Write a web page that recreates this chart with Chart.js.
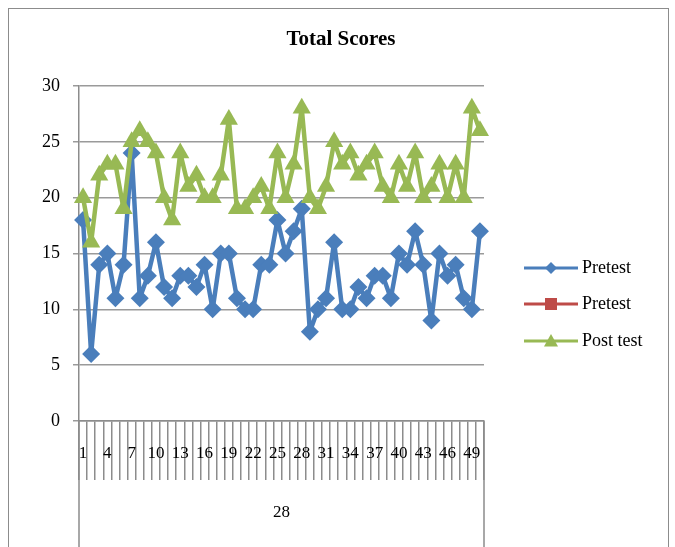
<!DOCTYPE html>
<html>
<head>
<meta charset="utf-8">
<script src="https://cdn.jsdelivr.net/npm/chart.js@4.4.1/dist/chart.umd.min.js"></script>
<style>
  html, body { margin: 0; padding: 0; background: #ffffff; }
  canvas { display: block; }
</style>
</head>
<body>
<canvas id="scores" width="675" height="547"></canvas>
<script>
// Students 1..50
const categories = ['1','2','3','4','5','6','7','8','9','10',
  '11','12','13','14','15','16','17','18','19','20',
  '21','22','23','24','25','26','27','28','29','30',
  '31','32','33','34','35','36','37','38','39','40',
  '41','42','43','44','45','46','47','48','49','50'];

const pretest = [18, 6, 14, 15, 11, 14, 24, 11, 13, 16,
  12, 11, 13, 13, 12, 14, 10, 15, 15, 11,
  10, 10, 14, 14, 18, 15, 17, 19, 8, 10,
  11, 16, 10, 10, 12, 11, 13, 13, 11, 15,
  14, 17, 14, 9, 15, 13, 14, 11, 10, 17];

// second "Pretest" series carries no values
const pretestB = [];

const posttest = [20, 16, 22, 23, 23, 19, 25, 26, 25, 24,
  20, 18, 24, 21, 22, 20, 20, 22, 27, 19,
  19, 20, 21, 19, 24, 20, 23, 28, 20, 19,
  21, 25, 23, 24, 22, 23, 24, 21, 20, 23,
  21, 24, 20, 21, 23, 20, 23, 20, 28, 26];

const yTicks = [0, 5, 10, 15, 20, 25, 30];
const groupLabel = '28';
const titleText = 'Total Scores';

const BLUE = '#4A7EBB', RED = '#BE4B48', GREEN = '#98B954';
const SERIF = '"Liberation Serif", "Times New Roman", serif';

function drawMarker(ctx, style, x, y, r, color) {
  ctx.save();
  ctx.fillStyle = color;
  ctx.beginPath();
  if (style === 'rectRot') {
    ctx.moveTo(x, y - r); ctx.lineTo(x + r, y); ctx.lineTo(x, y + r); ctx.lineTo(x - r, y);
  } else if (style === 'rect') {
    ctx.rect(x - r, y - r, 2 * r, 2 * r);
  } else {
    ctx.moveTo(x, y - r); ctx.lineTo(x + r, y + r * 0.8); ctx.lineTo(x - r, y + r * 0.8);
  }
  ctx.closePath();
  ctx.fill();
  ctx.restore();
}

const decorations = {
  id: 'decorations',
  afterDraw(chart) {
    const ctx = chart.ctx;
    const area = chart.chartArea;
    const xs = chart.scales.x;
    ctx.save();

    // outer frame
    ctx.strokeStyle = '#8c8c8c';
    ctx.lineWidth = 1;
    ctx.strokeRect(8.5, 8.5, 660, 600);

    // title
    ctx.fillStyle = '#000';
    ctx.font = 'bold 21px ' + SERIF;
    ctx.textAlign = 'center';
    ctx.textBaseline = 'middle';
    ctx.fillText(titleText, 341, 40);

    // outer group level of the category axis
    ctx.strokeStyle = '#8c8c8c';
    ctx.lineWidth = 1.5;
    ctx.beginPath();
    ctx.moveTo(xs.left, area.bottom); ctx.lineTo(xs.left, chart.height);
    ctx.moveTo(xs.right, area.bottom); ctx.lineTo(xs.right, chart.height);
    ctx.stroke();
    ctx.font = '17px ' + SERIF;
    ctx.fillStyle = '#000';
    ctx.fillText(groupLabel, (xs.left + xs.right) / 2, 513);

    // legend: line with marker
    const styles = ['rectRot', 'rect', 'triangle'];
    const sizes = [6, 6, 7];
    const rows = [268, 304, 341];
    chart.data.datasets.forEach((ds, i) => {
      const y = rows[i];
      ctx.strokeStyle = ds.borderColor;
      ctx.lineWidth = 3;
      ctx.beginPath();
      ctx.moveTo(524, y); ctx.lineTo(578, y);
      ctx.stroke();
      drawMarker(ctx, styles[i], 551, y, sizes[i], ds.borderColor);
      ctx.fillStyle = '#000';
      ctx.font = '18px ' + SERIF;
      ctx.textAlign = 'left';
      ctx.textBaseline = 'middle';
      ctx.fillText(ds.label, 582, y);
    });
    ctx.restore();
  }
};

new Chart(document.getElementById('scores'), {
  type: 'line',
  data: {
    labels: categories,
    datasets: [
      { label: 'Pretest', data: pretest, borderColor: BLUE, backgroundColor: BLUE, order: 2,
        borderWidth: 4.5, borderJoinStyle: 'round', borderCapStyle: 'round',
        pointStyle: 'rectRot', pointRadius: 9, pointBorderWidth: 0, tension: 0 },
      { label: 'Pretest', data: pretestB, borderColor: RED, backgroundColor: RED, order: 1,
        borderWidth: 4.5, borderJoinStyle: 'round',
        pointStyle: 'rect', pointRadius: 7, pointBorderWidth: 0, tension: 0 },
      { label: 'Post test', data: posttest, borderColor: GREEN, backgroundColor: GREEN, order: 0,
        borderWidth: 4.5, borderJoinStyle: 'round', borderCapStyle: 'round',
        pointStyle: 'triangle', pointRadius: 10.5, pointBorderWidth: 0, tension: 0 }
    ]
  },
  options: {
    responsive: false,
    animation: false,
    events: [],
    layout: { padding: { top: 86, left: 0, right: 191, bottom: 0 } },
    plugins: {
      legend: { display: false },
      title: { display: false },
      tooltip: { enabled: false }
    },
    scales: {
      x: {
        offset: true,
        grid: { offset: true, drawOnChartArea: false, tickLength: 59, color: '#8c8c8c', lineWidth: 1.5 },
        border: { color: '#8c8c8c', width: 1.5 },
        ticks: {
          autoSkip: false, maxRotation: 0, minRotation: 0, padding: -37,
          color: '#000', font: { family: SERIF, size: 17 },
          callback: (v, i) => (i % 3 === 0 ? categories[i] : '')
        },
        afterFit(scale) { scale.height = 126; }
      },
      y: {
        min: yTicks[0], max: yTicks[yTicks.length - 1],
        afterBuildTicks(scale) { scale.ticks = yTicks.map(v => ({ value: v })); },
        grid: { color: '#9a9a9a', lineWidth: 1.5, tickLength: 6 },
        border: { color: '#8c8c8c', width: 1.5 },
        ticks: { padding: 13, color: '#000', font: { family: SERIF, size: 18 } },
        afterFit(scale) { scale.width = 79; }
      }
    }
  },
  plugins: [decorations]
});
</script>
</body>
</html>
